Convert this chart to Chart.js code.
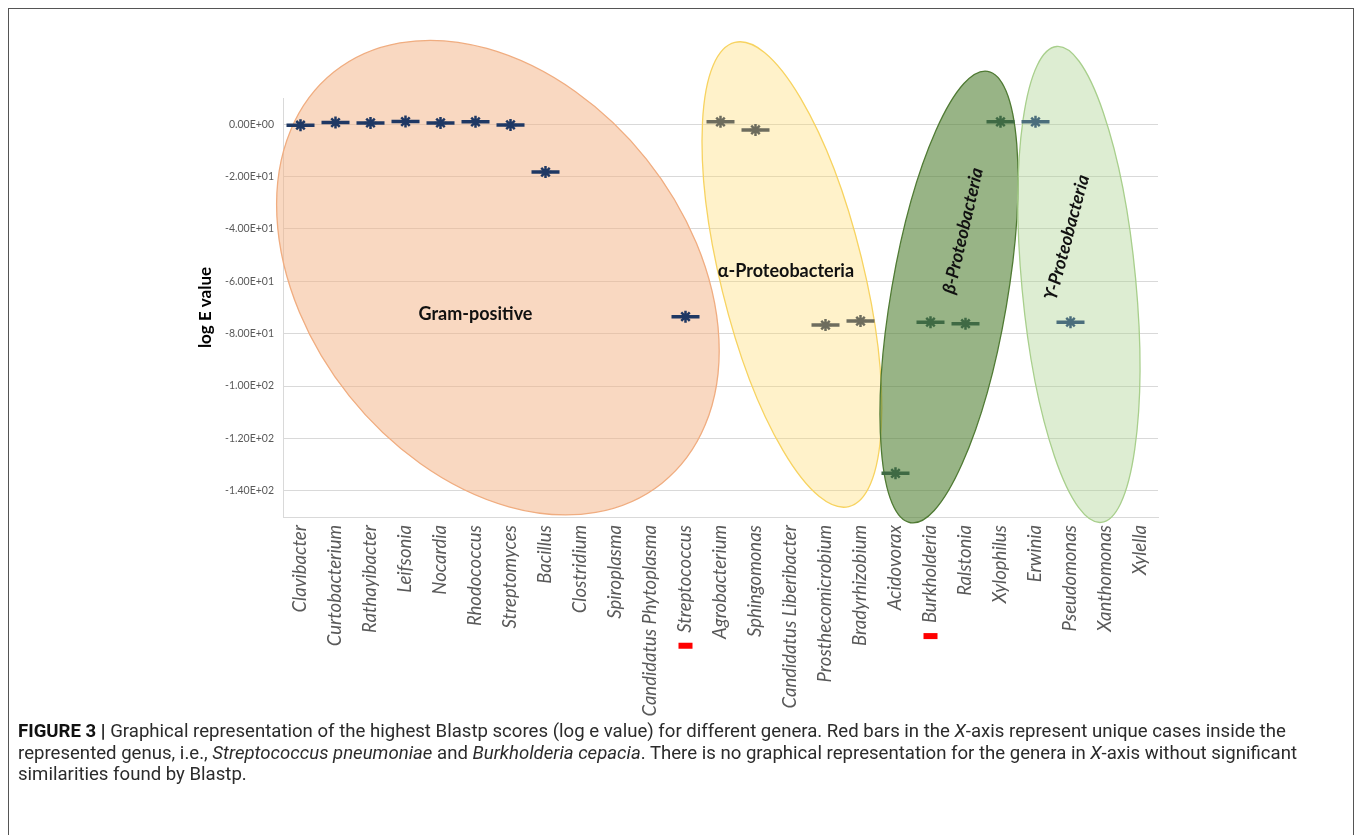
<!DOCTYPE html>
<html>
<head>
<meta charset="utf-8">
<script src="https://cdn.jsdelivr.net/npm/chart.js@4.4.1/dist/chart.umd.min.js"></script>
<style>
  body { margin: 0; background: #fff; width: 1357px; height: 835px; overflow: hidden; position: relative; }
  .frame { position: absolute; left: 8px; top: 8px; width: 1346px; height: 900px; border: 1px solid #555; box-sizing: border-box; }
  #wrap { position: absolute; left: 0; top: 0; width: 1357px; height: 760px; }
  .caption { position: absolute; left: 18px; top: 721px; font-family: Roboto, "Liberation Sans", sans-serif; font-size: 18.6px; line-height: 21.6px; color: #2b2b2b; white-space: nowrap; }
  .caption b { color: #111; }
</style>
</head>
<body>
<div class="frame"></div>
<div id="wrap"><canvas id="chart" width="1357" height="760"></canvas></div>
<div class="caption">
  <b>FIGURE 3 |</b> Graphical representation of the highest Blastp scores (log e value) for different genera. Red bars in the <i>X</i>-axis represent unique cases inside the<br>
  represented genus, i.e., <i>Streptococcus pneumoniae</i> and <i>Burkholderia cepacia</i>. There is no graphical representation for the genera in <i>X</i>-axis without significant<br>
  similarities found by Blastp.
</div>
<script>
const genera = ["Clavibacter", "Curtobacterium", "Rathayibacter", "Leifsonia", "Nocardia", "Rhodococcus",
  "Streptomyces", "Bacillus", "Clostridium", "Spiroplasma", "Candidatus Phytoplasma", "Streptococcus",
  "Agrobacterium", "Sphingomonas", "Candidatus Liberibacter", "Prosthecomicrobium", "Bradyrhizobium",
  "Acidovorax", "Burkholderia", "Ralstonia", "Xylophilus", "Erwinia", "Pseudomonas", "Xanthomonas", "Xylella"];
const logE = [-0.4, 0.6, 0.5, 1.0, 0.5, 0.9, -0.3, -18.3, null, null, null, -73.5,
  0.9, -2.2, null, -76.7, -75.2,
  -133.3, -75.6, -76.2, 0.9,
  0.9, -75.6, null, null];
const groupOf = ["gram", "gram", "gram", "gram", "gram", "gram", "gram", "gram", "gram", "gram", "gram", "gram",
  "alpha", "alpha", "alpha", "alpha", "alpha",
  "beta", "beta", "beta", "beta",
  "gamma", "gamma", "gamma", "gamma"];
const uniqueCases = ["Streptococcus", "Burkholderia"];
const yTicks = [0, -20, -40, -60, -80, -100, -120, -140];

// look
const markerColor = { gram: "#1f3864", alpha: "#6e6d5e", beta: "#3f6a44", gamma: "#4b6e7c" };
const colors = groupOf.map(g => markerColor[g]);
const labelFont = { family: "Lato", size: 18.5, style: "italic" };

// group ellipses: centre in (category index, value), radii in px, tilt in degrees
const ellipses = [
  { cx: 5.64, cy: -58.6, rx: 263, ry: 190, rot: 51.4, fill: "rgba(244,177,131,0.5)", stroke: "#f0ad80",
    label: "Gram-positive", lx: 5.0, ly: -72.6, lrot: 0, italic: false },
  { cx: 14.04, cy: -57.4, rx: 239, ry: 71.5, rot: 76.2, fill: "rgba(255,217,102,0.35)", stroke: "#f7d360",
    label: "α-Proteobacteria", lx: 13.87, ly: -56.3, lrot: 0, italic: false },
  { cx: 18.53, cy: -66.0, rx: 229, ry: 58, rot: -80.3, fill: "rgba(84,130,53,0.6)", stroke: "#4f7a33",
    label: "β-Proteobacteria", lx: 18.93, ly: -40.7, lrot: -77, italic: true },
  { cx: 22.24, cy: -61.2, rx: 239, ry: 57, rot: 84.65, fill: "rgba(169,209,142,0.4)", stroke: "#a8cf8c",
    label: "ϒ-Proteobacteria", lx: 21.9, ly: -43.3, lrot: -75, italic: true }
];

const sci = v => {
  const [m, e] = v.toExponential(2).split("e");
  return m + "E" + e[0] + e.slice(1).padStart(2, "0");
};

const groupShapes = {
  id: "groupShapes",
  beforeDatasetsDraw(chart) {
    const { ctx, scales: { x, y } } = chart;
    ctx.save();
    ellipses.forEach(e => {
      ctx.beginPath();
      ctx.ellipse(x.getPixelForValue(e.cx), y.getPixelForValue(e.cy), e.rx, e.ry, e.rot * Math.PI / 180, 0, Math.PI * 2);
      ctx.fillStyle = e.fill;
      ctx.fill();
      ctx.lineWidth = 1.3;
      ctx.strokeStyle = e.stroke;
      ctx.stroke();
    });
    ctx.restore();
  },
  afterDatasetsDraw(chart) {
    const { ctx, scales: { x, y } } = chart;
    ctx.save();
    ctx.fillStyle = "#111";
    ctx.textAlign = "center";
    ctx.textBaseline = "middle";
    ellipses.forEach(e => {
      ctx.save();
      ctx.translate(x.getPixelForValue(e.lx), y.getPixelForValue(e.ly));
      ctx.rotate(e.lrot * Math.PI / 180);
      ctx.font = (e.italic ? "italic " : "") + "bold 18px Lato";
      ctx.fillText(e.label, 0, 0);
      ctx.restore();
    });
    // red bars below the unique-case genus labels
    ctx.font = "italic " + labelFont.size + "px Lato";
    ctx.fillStyle = "#ff0000";
    uniqueCases.forEach(name => {
      const i = genera.indexOf(name);
      const px = x.getPixelForValue(i);
      const w = ctx.measureText(name).width;
      ctx.fillRect(px - 7, x.top + 8 + w + 10, 14, 6);
    });
    ctx.restore();
  }
};

new Chart(document.getElementById("chart"), {
  type: "line",
  data: {
    labels: genera,
    datasets: [
      { data: logE, showLine: false, pointStyle: "line", pointRadius: 14, pointHoverRadius: 14,
        pointBorderWidth: 3.5, pointBorderColor: colors, pointBackgroundColor: colors },
      { data: logE, showLine: false, pointStyle: "star", pointRadius: 6, pointHoverRadius: 6,
        pointBorderWidth: 2.5, pointBorderColor: colors, pointBackgroundColor: colors }
    ]
  },
  options: {
    responsive: false,
    animation: false,
    layout: { padding: { left: 190, top: 98, right: 199, bottom: 0 } },
    plugins: { legend: { display: false }, tooltip: { enabled: false } },
    scales: {
      x: {
        offset: true,
        grid: { display: false, drawTicks: false },
        border: { display: true, color: "#d9d9d9", width: 1 },
        ticks: { minRotation: 90, maxRotation: 90, autoSkip: false, padding: 8, color: "#595959", font: labelFont },
        afterFit(scale) { scale.height = 760 - 517; }
      },
      y: {
        min: -150,
        max: 10,
        afterBuildTicks(scale) { scale.ticks = yTicks.map(v => ({ value: v })); },
        grid: { color: "#d9d9d9", drawTicks: false },
        border: { display: true, color: "#d9d9d9" },
        ticks: { padding: 9, color: "#595959", font: { family: "Lato", size: 10.5 }, callback: v => sci(v) },
        title: { display: true, text: "log E value", color: "#000", padding: { top: 5, bottom: 0 },
          font: { family: "Lato", size: 17, weight: "bold" } },
        afterFit(scale) { scale.width = 93; }
      }
    }
  },
  plugins: [groupShapes]
});
</script>
</body>
</html>
